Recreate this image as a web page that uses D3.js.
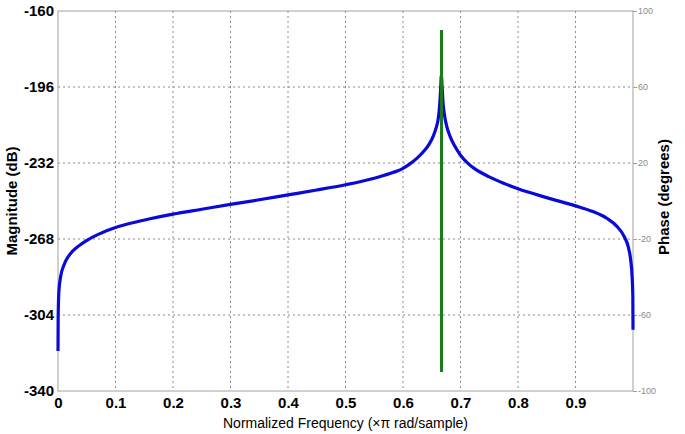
<!DOCTYPE html>
<html>
<head>
<meta charset="utf-8">
<script src="https://cdn.jsdelivr.net/npm/d3@7"></script>
<style>
  body { margin: 0; background: #fff; }
  svg { display: block; font-family: "Liberation Sans", Arial, sans-serif; }
</style>
</head>
<body>
<svg id="chart" width="685" height="434"></svg>
<script>
// normalized frequency (x pi rad/sample) and magnitude in dB
const freq = [0, 0.0003, 0.0015, 0.0046, 0.01, 0.02, 0.035, 0.051, 0.07, 0.1, 0.13, 0.16, 0.2, 0.25,
  0.3, 0.35, 0.4, 0.45, 0.5, 0.55, 0.58, 0.59, 0.6, 0.612, 0.624, 0.635, 0.645, 0.653, 0.658, 0.661,
  0.6635, 0.6655, 0.6667, 0.668, 0.6695, 0.672, 0.676, 0.682, 0.69, 0.7, 0.712, 0.725, 0.75,
  0.775, 0.8, 0.85, 0.9, 0.93, 0.955, 0.972, 0.984, 0.992, 0.996, 0.9985, 0.9997, 1.0];
const magDb = [-321, -305, -293, -285.8, -280.5, -275.5, -271.5, -268.5, -265.8, -262.6, -260.3, -258.4, -256.2, -253.9,
  -251.6, -249.4, -247.1, -244.8, -242.3, -239.2, -236.7, -235.8, -234.5, -232.4, -229.8, -226.8, -223.3, -219, -215, -211.5,
  -205.5, -197, -190.5, -196, -203, -209, -214.5, -219.5, -224, -228.3, -231.9, -234.8, -238.6,
  -241.6, -244.2, -248.4, -252.3, -255.0, -258.3, -262, -266.5, -272, -278, -286, -295, -311];

// phase (degrees): jump at the resonance
const phaseFreq = [0.667, 0.667];
const phaseDeg = [90, -90];

const magTicks = [-160, -196, -232, -268, -304, -340];
const phaseTicks = [100, 60, 20, -20, -60, -100];
const freqTicks = [0, 0.1, 0.2, 0.3, 0.4, 0.5, 0.6, 0.7, 0.8, 0.9];

const margin = {left: 58, top: 11};
const w = 575, h = 380;

const svg = d3.select('#chart');
const g = svg.append('g').attr('transform', `translate(${margin.left},${margin.top})`);

const x = d3.scaleLinear().domain([0, 1]).range([0, w]);
const yMag = d3.scaleLinear().domain([-340, -160]).range([h, 0]);
const yPh = d3.scaleLinear().domain([-100, 100]).range([h, 0]);

// grid
g.selectAll('line.vgrid')
  .data(freqTicks.filter(d => d > 0))
  .enter().append('line')
  .attr('class', 'vgrid')
  .attr('x1', d => x(d)).attr('x2', d => x(d))
  .attr('y1', 0).attr('y2', h)
  .style('stroke', '#8a8a8a').style('stroke-width', 1).style('stroke-dasharray', '2,3');

g.selectAll('line.hgrid')
  .data(magTicks.filter(d => d !== -160 && d !== -340))
  .enter().append('line')
  .attr('class', 'hgrid')
  .attr('x1', 0).attr('x2', w)
  .attr('y1', d => yMag(d)).attr('y2', d => yMag(d))
  .style('stroke', '#8a8a8a').style('stroke-width', 1).style('stroke-dasharray', '2,3');

// box
g.append('rect')
  .attr('x', 0).attr('y', 0).attr('width', w).attr('height', h)
  .style('fill', 'none').style('stroke', '#a0a0a0').style('stroke-width', 1);

// left axis
const leftAxis = d3.axisLeft(yMag).tickValues(magTicks).tickSize(0).tickPadding(4).tickFormat(d => String(d));
const la = g.append('g').call(leftAxis);
la.select('.domain').remove();
la.selectAll('text')
  .style('font-size', '15px').style('font-weight', 'bold').style('fill', '#000');

// bottom axis
const bottomAxis = d3.axisBottom(x).tickValues(freqTicks).tickSize(0).tickPadding(6).tickFormat(d => d === 0 ? '0' : d3.format('.1f')(d));
const ba = g.append('g').attr('transform', `translate(0,${h})`).call(bottomAxis);
ba.select('.domain').remove();
ba.selectAll('text')
  .style('font-size', '15px').style('font-weight', 'bold').style('fill', '#000');

// right axis
const rightAxis = d3.axisRight(yPh).tickValues(phaseTicks).tickSize(4).tickPadding(1).tickFormat(d => String(d));
const ra = g.append('g').attr('transform', `translate(${w},0)`).call(rightAxis);
ra.select('.domain').remove();
ra.selectAll('line').style('stroke', '#a0a0a0');
ra.selectAll('text')
  .style('font-size', '9px').style('fill', '#8a8a8a');

// magnitude line
const magLine = d3.line()
  .x((d, i) => x(freq[i]))
  .y(d => yMag(d))
  .curve(d3.curveMonotoneX);

g.append('path')
  .datum(magDb)
  .attr('d', magLine)
  .style('fill', 'none')
  .style('stroke', '#0a0ad8')
  .style('stroke-width', 3.2)
  .style('stroke-linejoin', 'round');

// phase line
const phLine = d3.line()
  .x((d, i) => x(phaseFreq[i]))
  .y(d => yPh(d));

g.append('path')
  .datum(phaseDeg)
  .attr('d', phLine)
  .style('fill', 'none')
  .style('stroke', '#1b7a1b')
  .style('stroke-width', 3);

// labels
svg.append('text')
  .attr('x', margin.left + w / 2).attr('y', 428)
  .attr('text-anchor', 'middle')
  .style('font-size', '14px')
  .text('Normalized Frequency (\u00d7\u03c0 rad/sample)');

svg.append('text')
  .attr('transform', `translate(17,${margin.top + h / 2}) rotate(-90)`)
  .attr('text-anchor', 'middle')
  .style('font-size', '15px').style('font-weight', 'bold')
  .text('Magnitude (dB)');

svg.append('text')
  .attr('transform', `translate(669,${margin.top + h / 2 - 4}) rotate(-90)`)
  .attr('text-anchor', 'middle')
  .style('font-size', '15px').style('font-weight', 'bold')
  .text('Phase (degrees)');
</script>
</body>
</html>
